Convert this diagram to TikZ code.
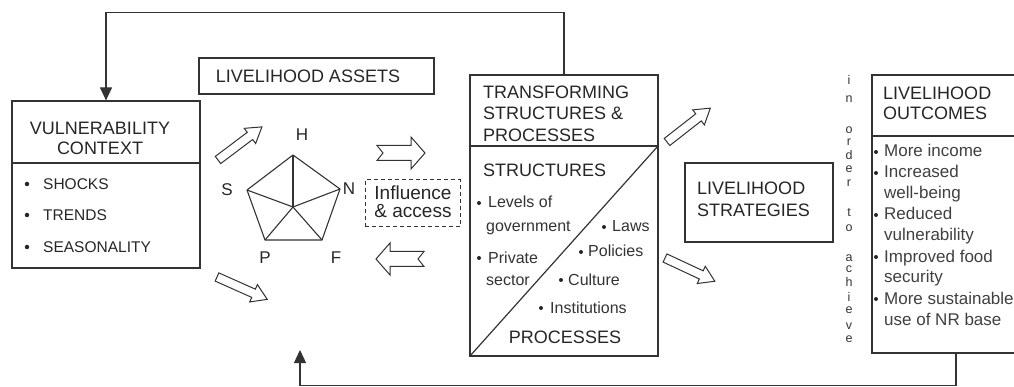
\documentclass[tikz,border=0pt]{standalone}
\usepackage{fontspec}
\setmainfont{Liberation Sans}
\usetikzlibrary{arrows.meta}
\begin{document}
\begin{tikzpicture}[x=1pt,y=-1pt,
  ln/.style={draw=black!80, line width=1.2pt},
  box/.style={ln, rectangle, inner sep=0pt},
  hd/.style={font=\fontsize{18}{20}\selectfont, inner sep=0pt, text=black!85},
  it/.style={font=\fontsize{15.5}{18}\selectfont, inner sep=0pt, text=black!85},
  sm/.style={font=\fontsize{16}{18}\selectfont, inner sep=0pt, text=black!80},
  om/.style={font=\fontsize{17}{18}\selectfont, inner sep=0pt, text=black!75},
  vt/.style={font=\fontsize{12.5}{13}\selectfont, inner sep=0pt, text=black!80, anchor=base},
  lbl/.style={font=\fontsize{17}{18}\selectfont, inner sep=0pt, text=black!85},
  dot/.style={fill=black!85, draw=none, circle, inner sep=0pt, minimum size=4.5pt},
  tip/.style={-{Triangle[length=13pt,width=12pt]}},
  harrow/.style={draw=black!80, line width=1pt, fill=white},
  diagarrow/.pic={\draw[harrow] (0,-4.5) -- (40,-4.5) -- (40,-9.5) -- (55,0) -- (40,9.5) -- (40,4.5) -- (0,4.5) -- cycle;},
  notcharrow/.pic={\draw[harrow] (0,-7.5) -- (34,-7.5) -- (34,-16) -- (48,0) -- (34,16) -- (34,7.5) -- (0,7.5) -- (6,0) -- cycle;}
]
\useasboundingbox (0,0) rectangle (1014,387);

% boxes
\node[box, minimum width=188pt, minimum height=167pt] (vc) at (106,184.5) {};
\node[box, minimum width=235pt, minimum height=36pt] (la) at (316.5,76) {};
\node[box, minimum width=188pt, minimum height=281pt] (ts) at (564,215.5) {};
\node[box, minimum width=148pt, minimum height=79pt] (ls) at (759,202.5) {};
\node[box, minimum width=168pt, minimum height=278pt] (lo) at (956,214) {};
\node[box, dash pattern=on 4pt off 3pt, line width=1pt, minimum width=95pt, minimum height=47pt] (ia) at (412.5,203.5) {};

% dividers
\draw[ln] (12,163) -- (200,163);
\draw[ln] (470,146) -- (658,146);
\draw[ln] (470,356) -- (658,146);
\draw[ln] (872,136) -- (1040,136);

% feedback loops
\draw[ln, tip] (ts.north) -- ++(0,-62) -| (vc.north);
\coordinate (bt) at (300,350);
\draw[ln, tip] (lo.south) -- ++(0,32) -| (bt);

% texts: vulnerability
\node[hd, anchor=base] (vc1) at (100,134.5) {VULNERABILITY};
\node[hd, anchor=base] (vc2) at (100,154.5) {CONTEXT};
\foreach \t/\yy [count=\k] in {SHOCKS/184, TRENDS/215, SEASONALITY/247}{
  \node[dot] (vb\k) at (27,\yy) {};
  \node[it, anchor=base west] (vi\k) at (43,\yy+5.5) {\t};
}

% livelihood assets
\node[hd, anchor=base] (la1) at (308,82.5) {LIVELIHOOD ASSETS};

% pentagon
\coordinate (ph) at (293,155);
\coordinate (ps) at (247,190);
\coordinate (pn) at (340,189);
\coordinate (pp) at (265,240);
\coordinate (pf) at (322,240);
\coordinate (pc) at (293,207);
\draw[ln, line width=1.1pt, line join=round] (ph) -- (pn) -- (pf) -- (pp) -- (ps) -- cycle;
\foreach \p in {ph,ps,pn,pp,pf} \draw[ln, line width=1.1pt] (pc) -- (\p);
\node[lbl] (lh) at (302,135) {H};
\node[lbl] (lsx) at (227,190) {S};
\node[lbl] (ln) at (349,189) {N};
\node[lbl] (lp) at (265,258) {P};
\node[lbl] (lf) at (336,258) {F};

% hollow arrows
\pic[rotate=37] at (218,160) {diagarrow};
\pic[rotate=-24] at (217,277) {diagarrow};
\pic[rotate=38] at (667,142) {diagarrow};
\pic[rotate=-25] at (665,258) {diagarrow};
\pic at (377,153) {notcharrow};
\pic[rotate=180] at (424,259) {notcharrow};

% influence & access
\node[font=\fontsize{19}{20}\selectfont, inner sep=0pt, text=black!85, anchor=base] (ia1) at (413,199.5) {Influence};
\node[font=\fontsize{19}{20}\selectfont, inner sep=0pt, text=black!85, anchor=base] (ia2) at (413,218) {\& access};

% transforming structures
\node[hd, anchor=base west] (ts1) at (483,98.5) {TRANSFORMING};
\node[hd, anchor=base west] (ts2) at (483,119.5) {STRUCTURES \&};
\node[hd, anchor=base west] (ts3) at (483,141.5) {PROCESSES};
\node[hd, anchor=base west] (ts4) at (483,176.5) {STRUCTURES};
\node[hd, anchor=base] (ts5) at (565,343.5) {PROCESSES};
\node[dot, minimum size=4pt] (tb1) at (479,203) {};
\node[sm, anchor=base west] (tt1) at (488,208) {Levels of};
\node[sm, anchor=base west] (tt2) at (486,232) {government};
\node[dot, minimum size=4pt] (tb2) at (479,258) {};
\node[sm, anchor=base west] (tt3) at (488,263) {Private};
\node[sm, anchor=base west] (tt4) at (486,285) {sector};
\node[dot, minimum size=4pt] (tb3) at (604,227) {};
\node[sm, anchor=base west] (tt5) at (612,232) {Laws};
\node[dot, minimum size=4pt] (tb4) at (581,252) {};
\node[sm, anchor=base west] (tt6) at (588,257) {Policies};
\node[dot, minimum size=4pt] (tb5) at (561,280) {};
\node[sm, anchor=base west] (tt7) at (568,285) {Culture};
\node[dot, minimum size=4pt] (tb6) at (541,308) {};
\node[sm, anchor=base west] (tt8) at (550,313) {Institutions};

% livelihood strategies
\node[hd, anchor=base west] (ls1) at (697,194.5) {LIVELIHOOD};
\node[hd, anchor=base west] (ls2) at (697,216.5) {STRATEGIES};

% in order to achieve
\foreach \c/\yy [count=\k] in {i/80, n/98, o/129, r/141, d/155, e/168, r/182, t/212, o/227, a/257, c/268, h/282, i/297, e/309, v/325, e/338}{
  \node[vt] (va\k) at (849,\yy+4.5) {\c};
}

% livelihood outcomes
\node[hd, anchor=base west] (lo1) at (883,99.5) {LIVELIHOOD};
\node[hd, anchor=base west] (lo2) at (883,119.5) {OUTCOMES};
\foreach \t/\yy/\b [count=\k] in {More income/152/1, Increased/173/1, well-being/194/0, Reduced/215/1, vulnerability/236/0, Improved food/257/1, security/278/0, More sustainable/299/1, use of NR base/320/0}{
  \ifnum\b=1 \node[dot, minimum size=4pt] (ob\k) at (876,\yy) {}; \fi
  \node[om, anchor=base west] (ot\k) at (884,\yy+5) {\t};
}
\end{tikzpicture}
\end{document}
